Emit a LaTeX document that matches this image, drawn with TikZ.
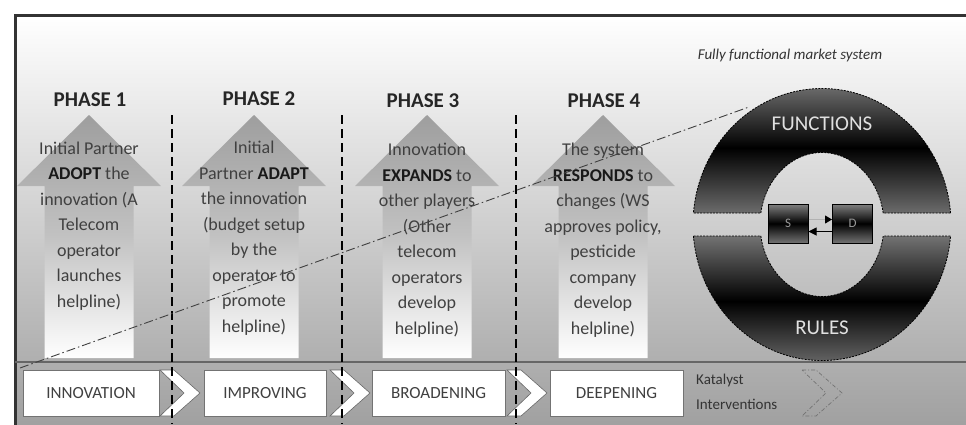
\documentclass[tikz,border=0pt]{standalone}
\usepackage{fontspec}
\setmainfont{Carlito}
\usetikzlibrary{arrows.meta}
\begin{document}
\begin{tikzpicture}[x=1pt,y=-1pt,
  arrowfill/.style={top color=black!38, bottom color=white, middle color=black!24, draw=none},
  bodytext/.style={font=\fontsize{18}{25.5}\selectfont, align=center, text=black!75, inner sep=0pt},
  phasehead/.style={font=\fontsize{21}{24}\selectfont\bfseries, text=black!85, inner sep=0pt},
  stagebox/.style={draw=black!55, fill=white, minimum height=46pt, inner sep=0pt, font=\fontsize{17}{19}\selectfont, text=black!75},
  chev/.style={draw=black!60, fill=white, line width=0.6pt},
  ringhalf/.style={top color=black!55, bottom color=black!58, middle color=black, draw=black, line width=0.8pt, dash pattern=on 2pt off 1.2pt},
  sdbox/.style={top color=black!50, bottom color=black!55, middle color=black, draw=black, line width=1pt, minimum width=40pt, minimum height=39pt, inner sep=0pt, text=black!40, font=\fontsize{13}{15}\selectfont},
  sep/.style={line width=2.5pt, black, dash pattern=on 9pt off 5pt}
]
\useasboundingbox (0,0) rectangle (966,424);
\fill[white] (0,0) rectangle (966,424);
% background
\shade[top color=white, bottom color=black!37] (15,15) rectangle (966,424);
\draw[line width=3pt, black!80] (15,430) -- (15,15) -- (972,15);

% ring
\shade[ringhalf] (950.54,213) arc[start angle=4.85, end angle=175.15, x radius=129pt, y radius=136pt]
  -- (760.8,213) arc[start angle=170.81, end angle=9.19, x radius=62pt, y radius=72pt] -- cycle;
\shade[ringhalf] (693.46,236) arc[start angle=184.85, end angle=355.15, x radius=129pt, y radius=136pt]
  -- (883.2,236) arc[start angle=350.81, end angle=189.19, x radius=62pt, y radius=72pt] -- cycle;
\node[font=\fontsize{21}{24}\selectfont, text=black!12] (func) at (822,124) {FUNCTIONS};
\node[font=\fontsize{21}{24}\selectfont, text=black!12] (rules) at (822,328) {RULES};

\node[font=\fontsize{15}{18}\selectfont\itshape, text=black!80] (fully) at (790,55) {Fully functional market system};

% phase arrows
\foreach \c in {89,254,427,603} {
  \shade[arrowfill] (\c-44.5,358) -- (\c-44.5,186) -- (\c-72,186) -- (\c,115) -- (\c+72,186) -- (\c+44.5,186) -- (\c+44.5,358) -- cycle;
}

\node[phasehead] (ph1) at (90,100) {PHASE 1};
\node[phasehead] (ph2) at (259,99) {PHASE 2};
\node[phasehead] (ph3) at (423,101) {PHASE 3};
\node[phasehead] (ph4) at (604,101) {PHASE 4};

\node[bodytext] (t1) at (89,226) {Initial Partner\\\textbf{\color{black!90}ADOPT} the\\innovation (A\\Telecom\\operator\\launches\\helpline)};
\node[bodytext] (t2) at (254,238) {Initial\\Partner \textbf{\color{black!90}ADAPT}\\the innovation\\(budget setup\\by the\\operator to\\promote\\helpline)};
\node[bodytext] (t3) at (427,240) {Innovation\\\textbf{\color{black!90}EXPANDS} to\\other players\\(Other\\telecom\\operators\\develop\\helpline)};
\node[bodytext] (t4) at (603,240) {The system\\\textbf{\color{black!90}RESPONDS} to\\changes (WS\\approves policy,\\pesticide\\company\\develop\\helpline)};

% bottom strip
\draw[line width=2pt, black!60] (15,362) -- (966,362);
\node[stagebox, minimum width=136pt] (innov) at (91,393) {INNOVATION};
\node[stagebox, minimum width=122pt] (impr) at (265,393) {IMPROVING};
\node[stagebox, minimum width=133pt] (broad) at (438.5,393) {BROADENING};
\node[stagebox, minimum width=133pt] (deep) at (616.5,393) {DEEPENING};
\foreach \cl in {160,330,507} {
  \draw[chev] (\cl,370) -- (\cl+14,370) -- (\cl+40,393) -- (\cl+14,416) -- (\cl,416) -- (\cl+24,393) -- cycle;
}
\draw[black!55, line width=0.7pt, dash pattern=on 4pt off 2pt on 1pt off 2pt] (802,370) -- (816,370) -- (842,393) -- (816,416) -- (802,416) -- (826,393) -- cycle;
\node[anchor=west, align=left, font=\fontsize{15}{25}\selectfont, text=black!80, inner sep=0pt] (kat) at (696,392) {Katalyst\\Interventions};

% separators
\foreach \x in {172,342,516} {
  \draw[sep] (\x,115) -- (\x,424);
}

% dash-dot line
\coordinate (ddA) at (20,368);
\coordinate (ddB) at (749,107);
\draw[black!75, line width=0.9pt, dash pattern=on 9pt off 3pt on 1.5pt off 3pt] (ddA) -- (ddB);

% S and D
\node[sdbox] (S) at (788,223.5) {S};
\node[sdbox] (D) at (852.5,223.5) {D};
\draw[black!30, line width=1pt, -{Triangle[length=7pt,width=8pt,black]}] ([yshift=4pt]S.east) -- ([yshift=4pt]D.west);
\draw[black, line width=1pt, -{Triangle[length=8pt,width=8pt,black]}] ([yshift=-8pt]D.west) -- ([yshift=-8pt]S.east);
\end{tikzpicture}
\end{document}
